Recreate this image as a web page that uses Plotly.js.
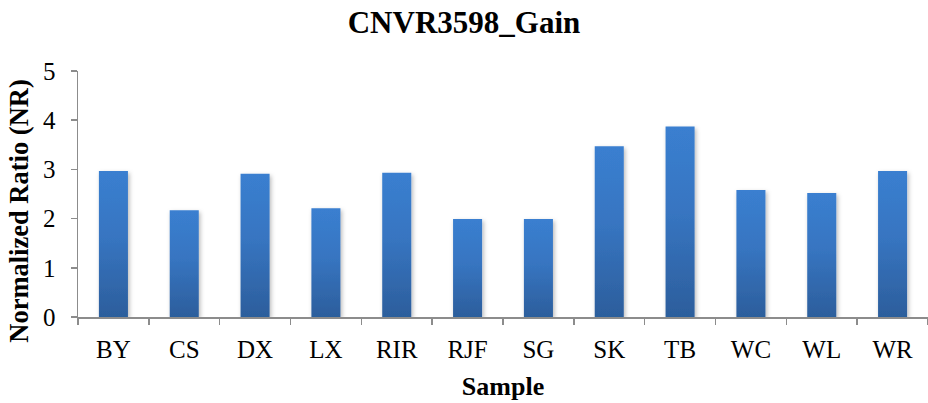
<!DOCTYPE html>
<html>
<head>
<meta charset="utf-8">
<script src="https://cdn.plot.ly/plotly-3.0.1.min.js"></script>
<style>
  html, body { margin: 0; padding: 0; background: #fff; }
  #chart { width: 928px; height: 403px; }
</style>
</head>
<body>
<div id="chart"></div>
<script>
// Normalized copy-number ratio per sample for CNVR3598 (gain)
const samples = ["BY", "CS", "DX", "LX", "RIR", "RJF", "SG", "SK", "TB", "WC", "WL", "WR"];
const ratios  = [2.97, 2.17, 2.91, 2.21, 2.93, 1.99, 1.99, 3.47, 3.87, 2.58, 2.52, 2.97];

const serif = "Liberation Serif";
const axisGray = "#8c8c8c";

const trace = {
  type: "bar",
  x: samples,
  y: ratios,
  marker: { color: "#3470bb", line: { width: 0 } },
  hoverinfo: "x+y"
};

const layout = {
  width: 928,
  height: 403,
  margin: { l: 78, r: 0, t: 71, b: 86 },
  paper_bgcolor: "#ffffff",
  plot_bgcolor: "#ffffff",
  bargap: 0.59,
  showlegend: false,
  font: { family: serif, color: "#000" },
  title: {
    text: "<b>CNVR3598_Gain</b>",
    font: { family: serif, size: 31, color: "#000" },
    x: 0.5, xanchor: "center",
    y: 0.945, yanchor: "middle"
  },
  xaxis: {
    type: "category",
    showline: true, linecolor: axisGray, linewidth: 1.5,
    ticks: "outside", tickson: "boundaries", ticklen: 6, tickcolor: axisGray, tickwidth: 1.5,
    tickfont: { family: serif, size: 25, color: "#000" },
    ticklabelstandoff: 9,
    showgrid: false, zeroline: false,
    title: { text: "<b>Sample</b>", font: { family: serif, size: 26, color: "#000" }, standoff: 15 }
  },
  yaxis: {
    range: [0, 5],
    dtick: 1,
    showline: true, linecolor: axisGray, linewidth: 1.5,
    ticks: "outside", ticklen: 6, tickcolor: axisGray, tickwidth: 1.5,
    tickfont: { family: serif, size: 25, color: "#000" },
    ticklabelstandoff: 10,
    showgrid: false, zeroline: false,
    title: { text: "<b>Normalized Ratio (NR)</b>", font: { family: serif, size: 26.5, color: "#000" }, standoff: 6 }
  }
};

Plotly.newPlot("chart", [trace], layout, { displayModeBar: false, staticPlot: true }).then(function (gd) {
  // Vertical blue gradient and a soft shadow on the bars
  const svg = gd.querySelector(".main-svg");
  const ns = "http://www.w3.org/2000/svg";
  let defs = svg.querySelector("defs");
  if (!defs) { defs = document.createElementNS(ns, "defs"); svg.insertBefore(defs, svg.firstChild); }

  const grad = document.createElementNS(ns, "linearGradient");
  grad.setAttribute("id", "barGrad");
  grad.setAttribute("x1", "0"); grad.setAttribute("y1", "0");
  grad.setAttribute("x2", "0"); grad.setAttribute("y2", "1");
  [["0", "#3a7fd0"], ["0.45", "#3775c1"], ["1", "#2c5e9c"]].forEach(function (s) {
    const st = document.createElementNS(ns, "stop");
    st.setAttribute("offset", s[0]);
    st.setAttribute("stop-color", s[1]);
    grad.appendChild(st);
  });
  defs.appendChild(grad);

  const filt = document.createElementNS(ns, "filter");
  filt.setAttribute("id", "barShadow");
  filt.setAttribute("x", "-30%"); filt.setAttribute("y", "-10%");
  filt.setAttribute("width", "160%"); filt.setAttribute("height", "120%");
  const sh = document.createElementNS(ns, "feDropShadow");
  sh.setAttribute("dx", "1.5"); sh.setAttribute("dy", "2");
  sh.setAttribute("stdDeviation", "2.2");
  sh.setAttribute("flood-color", "#000");
  sh.setAttribute("flood-opacity", "0.28");
  filt.appendChild(sh);
  defs.appendChild(filt);

  gd.querySelectorAll(".bars .point path").forEach(function (p) {
    p.style.fill = "url(#barGrad)";
    p.setAttribute("filter", "url(#barShadow)");
  });

  // Sit the y-axis title a little below the plot's vertical centre
  const yt = gd.querySelector(".g-ytitle");
  if (yt) yt.setAttribute("transform", "translate(0,17)");
});
</script>
</body>
</html>
